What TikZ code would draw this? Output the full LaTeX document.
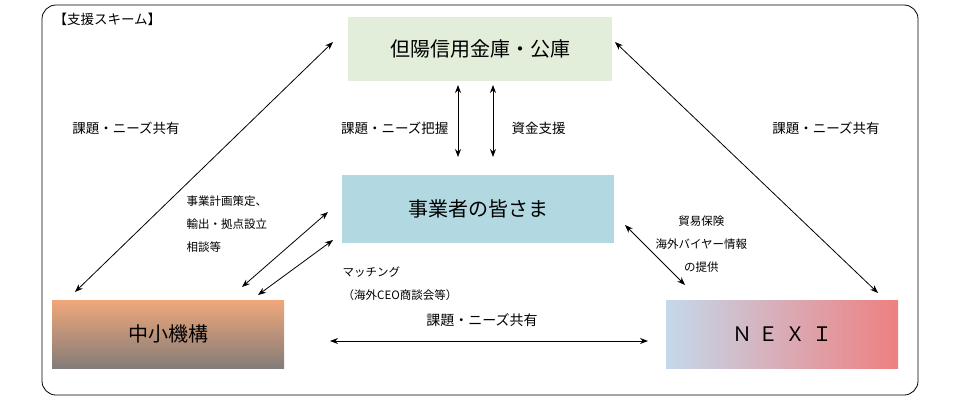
\documentclass[tikz,border=0pt]{standalone}
\usepackage{fontspec}
\setmainfont{Noto Sans CJK JP}
\usetikzlibrary{arrows.meta}
\definecolor{topgreen}{RGB}{226,238,217}
\definecolor{midblue}{RGB}{178,216,226}
\definecolor{jorange}{RGB}{240,168,122}
\definecolor{jgray}{RGB}{132,124,120}
\definecolor{nblue}{RGB}{196,216,236}
\definecolor{npink}{RGB}{238,128,128}
\begin{document}
\begin{tikzpicture}[>={Stealth[length=8pt,width=6pt]}, x=1pt, y=-1pt,
    box/.style={minimum width=264pt, minimum height=64pt, font=\fontsize{20}{24}\selectfont},
    lbl/.style={font=\fontsize{13.5}{16}\selectfont, align=left},
    small/.style={font=\fontsize{11.5}{23}\selectfont},
    link/.style={<->, thick}]
        \useasboundingbox (0,0) rectangle (960,400);
        \draw[rounded corners=14pt, thick] (42,5) rectangle (918,395);
        \node[lbl, anchor=west] at (50,19) {【支援スキーム】};
        % boxes
        \node[box, fill=topgreen] (bank) at (480,49) {但陽信用金庫・公庫};
        \node[box, fill=midblue, minimum width=272pt, minimum height=68pt] (biz) at (478,209) {事業者の皆さま};
        \node[box, minimum width=232pt, minimum height=68pt, top color=jorange, bottom color=jgray] (smrj) at (168,334) {中小機構};
        \node[box, minimum width=232pt, minimum height=68pt, left color=nblue, right color=npink] (nexi) at (782,334) {Ｎ\,\,Ｅ\,\,Ｘ\,\,Ｉ};
        % connector ends
        \coordinate (a1) at (75,292);  \coordinate (a2) at (333,42);
        \coordinate (b1) at (615,42);  \coordinate (b2) at (878,293);
        \coordinate (c1) at (458,85);  \coordinate (c2) at (458,157);
        \coordinate (d1) at (493,85);  \coordinate (d2) at (493,157);
        \coordinate (e1) at (328,212); \coordinate (e2) at (242,287);
        \coordinate (f1) at (333,240); \coordinate (f2) at (258,295);
        \coordinate (g1) at (625,225); \coordinate (g2) at (685,285);
        \coordinate (h1) at (330,341); \coordinate (h2) at (648,341);
        \draw[link] (a1) -- (a2);
        \draw[link] (b1) -- (b2);
        \draw[link] (c1) -- (c2);
        \draw[link] (d1) -- (d2);
        \draw[link] (e1) -- (e2);
        \draw[link] (f1) -- (f2);
        \draw[link] (g1) -- (g2);
        \draw[link] (h1) -- (h2);
        % labels
        \node[lbl] at (126,128) {課題・ニーズ共有};
        \node[lbl] at (826,128) {課題・ニーズ共有};
        \node[lbl, anchor=east] at (452,128) {課題・ニーズ把握};
        \node[lbl, anchor=west] at (508,128) {資金支援};
        \node[lbl, small, anchor=west] at (183,224) {事業計画策定、\\輸出・拠点設立\\相談等};
        \node[lbl, small] at (400,284) {マッチング\\（海外CEO商談会等）};
        \node[lbl, small, anchor=west, align=center] at (652,244) {貿易保険\\海外バイヤー情報\\の提供};
        \node[lbl, font=\fontsize{14}{16}\selectfont] at (482,320) {課題・ニーズ共有};
\end{tikzpicture}
\end{document}
